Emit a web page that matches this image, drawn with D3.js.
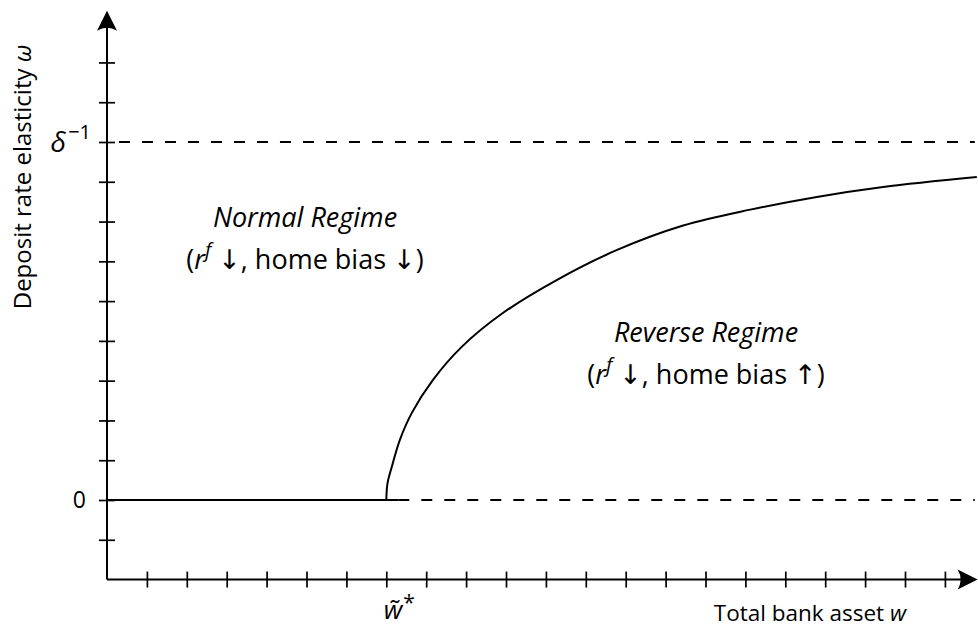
<!DOCTYPE html>
<html>
<head>
<meta charset="utf-8">
<script src="https://cdn.jsdelivr.net/npm/d3@7"></script>
<style>
  body { margin: 0; background: #fff; }
  svg { display: block; }
  text { font-family: "Open Sans", "DejaVu Sans", sans-serif; fill: #000; }
  .arr { font-family: "DejaVu Sans", sans-serif; }
</style>
</head>
<body>
<svg id="chart" width="978" height="627"></svg>
<script>
// ---- data ----
const xTickValues = d3.range(1, 22);          // x ticks (units)
const yTickValues = d3.range(-1, 12);         // y ticks (units)
const wStar = 7;                               // w~* position
const deltaInv = 9;                            // delta^-1 level
const curveW = [7.0, 7.03, 7.14, 7.34, 7.64, 8.17, 8.89, 9.92, 11.27, 12.77, 14.44, 16.12, 17.79, 19.45, 21.8];
const curveOmega = [0, 0.42, 0.84, 1.51, 2.19, 3.02, 3.85, 4.70, 5.53, 6.28, 6.90, 7.30, 7.62, 7.87, 8.12];
const zeroSolid = [[0, 0], [7.3, 0]];
const zeroDashed = [[7.3, 0], [21.75, 0]];
const deltaDashed = [[0.3, 9], [21.75, 9]];
const yLabels = [{v: 0, t: "0"}];

// ---- layout ----
const svg = d3.select("#chart");
const x = d3.scaleLinear().domain([0, 21]).range([107, 107 + 21 * 39.9]);
const y = d3.scaleLinear().domain([0, 9]).range([500, 142]);
const axisY = y(-2);
const xMax = 21.82, yMax = 12.3;

const line = d3.line().x(d => x(d[0])).y(d => y(d[1]));

// axes lines
svg.append("line").attr("x1", x(0)).attr("x2", x(xMax) - 8).attr("y1", axisY).attr("y2", axisY)
  .attr("stroke", "#000").attr("stroke-width", 2);
svg.append("line").attr("x1", x(0)).attr("x2", x(0)).attr("y1", axisY).attr("y2", y(yMax) + 8)
  .attr("stroke", "#000").attr("stroke-width", 2);

// arrowheads
const tipX = x(xMax), tipY = y(yMax);
svg.append("path")
  .attr("d", `M${tipX},${axisY} L${tipX - 20},${axisY - 10} Q${tipX - 14},${axisY} ${tipX - 20},${axisY + 10} Z`)
  .attr("fill", "#000");
svg.append("path")
  .attr("d", `M${x(0)},${tipY} L${x(0) - 10},${tipY + 20} Q${x(0)},${tipY + 14} ${x(0) + 10},${tipY + 20} Z`)
  .attr("fill", "#000");

// ticks via d3 axes
const gx = svg.append("g").attr("transform", `translate(0,${axisY - 8})`)
  .call(d3.axisBottom(x).tickValues(xTickValues).tickSize(16).tickFormat(""));
gx.select(".domain").remove();
gx.selectAll(".tick line").attr("stroke", "#000").attr("stroke-width", 1.7);

const gy = svg.append("g").attr("transform", `translate(${x(0) + 8},0)`)
  .call(d3.axisLeft(y).tickValues(yTickValues).tickSize(16).tickFormat(""));
gy.select(".domain").remove();
gy.selectAll(".tick line").attr("stroke", "#000").attr("stroke-width", 1.7);

// dashed lines
[zeroDashed, deltaDashed].forEach(d => {
  svg.append("path").attr("d", line(d)).attr("fill", "none")
    .attr("stroke", "#000").attr("stroke-width", 1.8).attr("stroke-dasharray", "11,12");
});
// solid zero segment
svg.append("path").attr("d", line(zeroSolid)).attr("fill", "none")
  .attr("stroke", "#000").attr("stroke-width", 2);

// curve
const curveData = curveW.map((w, i) => [w, curveOmega[i]]);
svg.append("path")
  .attr("d", d3.line().x(d => x(d[0])).y(d => y(d[1])).curve(d3.curveCatmullRom.alpha(0.5))(curveData))
  .attr("fill", "none").attr("stroke", "#000").attr("stroke-width", 2);

// y labels
yLabels.forEach(l => {
  svg.append("text").attr("x", 86).attr("y", y(l.v) + 8).attr("text-anchor", "end")
    .attr("font-size", 23).text(l.t);
});
const dl = svg.append("text").attr("x", 91).attr("y", y(deltaInv) + 10).attr("text-anchor", "end").attr("font-size", 28);
dl.append("tspan").attr("font-style", "italic").text("δ");
dl.append("tspan").attr("dy", -13).attr("dx", 2).attr("font-size", 20).text("−1");

// w~* label
const ws = svg.append("text").attr("x", x(wStar) + 13).attr("y", 619).attr("text-anchor", "middle").attr("font-size", 26);
ws.append("tspan").attr("font-style", "italic").text("w\u0303");
ws.append("tspan").attr("dy", -9).attr("dx", 1).attr("font-size", 21).text("*");

// axis titles
const xt = svg.append("text").attr("x", 906).attr("y", 621).attr("text-anchor", "end").attr("font-size", 22.5);
xt.append("tspan").text("Total bank asset ");
xt.append("tspan").attr("font-style", "italic").text("w");

const yt = svg.append("text").attr("transform", `translate(31,177) rotate(-90)`)
  .attr("text-anchor", "middle").attr("font-size", 24);
yt.append("tspan").text("Deposit rate elasticity ");
yt.append("tspan").attr("font-style", "italic").text("ω");

// regime annotations
function regime(cx, by, gap, title, arrow) {
  svg.append("text").attr("x", cx).attr("y", by).attr("text-anchor", "middle")
    .attr("font-size", 27).attr("font-style", "italic").text(title);
  const t = svg.append("text").attr("x", cx).attr("y", by + gap).attr("text-anchor", "middle").attr("font-size", 27);
  t.append("tspan").text("(");
  t.append("tspan").attr("font-style", "italic").text("r");
  t.append("tspan").attr("dy", -12).attr("font-size", 20).attr("font-style", "italic").text("f");
  t.append("tspan").attr("dy", 12).text(" ");
  t.append("tspan").attr("class", "arr").text("↓");
  t.append("tspan").text(", home bias ");
  t.append("tspan").attr("class", "arr").text(arrow);
  t.append("tspan").text(")");
}
regime(305, 227, 42, "Normal Regime", "↓");
regime(706, 342, 42, "Reverse Regime", "↑");
</script>
</body>
</html>
